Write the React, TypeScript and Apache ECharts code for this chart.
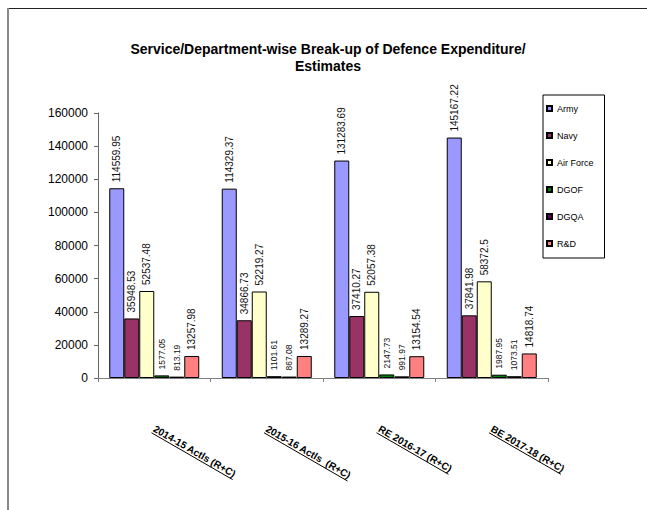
import React, { useEffect, useRef } from "react";
import * as echarts from "echarts";

const categories = [
  "2014-15 Actls (R+C)",
  "2015-16 Actls  (R+C)",
  "RE 2016-17 (R+C)",
  "BE 2017-18 (R+C)",
];
const seriesNames = ["Army", "Navy", "Air Force", "DGOF", "DGQA", "R&D"];
const army = [114559.95, 114329.37, 131283.69, 145167.22];
const navy = [35948.53, 34866.73, 37410.27, 37841.98];
const airForce = [52537.48, 52219.27, 52057.38, 58372.5];
const dgof = [1577.05, 1101.61, 2147.73, 1987.95];
const dgqa = [813.19, 867.08, 991.97, 1073.51];
const rnd = [13257.98, 13289.27, 13154.54, 14818.74];
const yTicks = { min: 0, max: 160000, interval: 20000 };

const seriesData = [army, navy, airForce, dgof, dgqa, rnd];
const colors = ["#9999FF", "#993366", "#FFFFCC", "#008000", "#660066", "#FF8080"];
const FONT = "'Liberation Sans', Arial, Helvetica, sans-serif";
const X_LABEL_SIZE = 10;
const X_LABEL_MARGIN = 50;
const X_LABEL_ROTATE = -30;

function measure(text: string): number {
  const c = document.createElement("canvas").getContext("2d");
  if (!c) return text.length * 5.5;
  c.font = `bold ${X_LABEL_SIZE}px ${FONT}`;
  return c.measureText(text).width;
}

export default function App() {
  const ref = useRef<HTMLDivElement>(null);
  useEffect(() => {
    if (!ref.current) return;
    const chart = echarts.init(ref.current, null, { renderer: "svg" });
    const widths = categories.map(measure);
    const ang = (-X_LABEL_ROTATE * Math.PI) / 180;
    const dx = Math.cos(ang);
    const dy = Math.sin(ang);
    const nx = -dy;
    const ny = dx;
    const off = 5.5;
    chart.setOption({
      animation: false,
      backgroundColor: "#ffffff",
      title: {
        text: "Service/Department-wise Break-up of Defence Expenditure/\nEstimates",
        left: 328,
        top: 40,
        padding: 0,
        textAlign: "center",
        textStyle: {
          fontFamily: FONT,
          fontSize: 14,
          fontWeight: "bold",
          color: "#000",
          lineHeight: 17,
        },
      },
      legend: {
        orient: "vertical",
        left: 543,
        top: 95,
        data: seriesNames,
        borderColor: "#000",
        borderWidth: 1,
        padding: [8, 11, 9, 3],
        itemWidth: 5,
        itemHeight: 5,
        itemGap: 16,
        itemTextGap: 1,
        icon: "rect",
        textStyle: {
          fontFamily: FONT,
          fontSize: 9,
          lineHeight: 11,
          color: "#000",
        },
      },
      grid: {
        left: 98,
        right: 99,
        top: 113,
        bottom: 132,
        containLabel: false,
      },
      xAxis: {
        type: "category",
        data: categories,
        axisLine: { show: true, lineStyle: { color: "#808080", width: 1 } },
        axisTick: { show: true, length: 4, inside: false, lineStyle: { color: "#808080" } },
        axisLabel: {
          rotate: X_LABEL_ROTATE,
          margin: X_LABEL_MARGIN,
          interval: 0,
          fontFamily: FONT,
          fontSize: X_LABEL_SIZE,
          fontWeight: "bold",
          color: "#000",
        },
        splitLine: { show: false },
      },
      yAxis: {
        type: "value",
        min: yTicks.min,
        max: yTicks.max,
        interval: yTicks.interval,
        axisLine: { show: true, lineStyle: { color: "#666", width: 1 } },
        axisTick: { show: true, length: 4, inside: false, lineStyle: { color: "#666" } },
        axisLabel: {
          margin: 10,
          fontFamily: FONT,
          fontSize: 12,
          color: "#000",
          formatter: (v: number) => String(v),
        },
        splitLine: { show: false },
      },
      graphic: [
        {
          type: "line",
          silent: true,
          shape: { x1: 8, y1: 8.5, x2: 647, y2: 8.5 },
          style: { stroke: "#222", lineWidth: 1 },
        },
        {
          type: "line",
          silent: true,
          shape: { x1: 8, y1: 8, x2: 8, y2: 510 },
          style: { stroke: "#888", lineWidth: 2 },
        },
      ],
      series: [
        ...seriesNames.map((name, i) => ({
          name,
          type: "bar",
          data: seriesData[i],
          barGap: "0%",
          barCategoryGap: "20%",
          itemStyle: { color: colors[i], borderColor: "#000", borderWidth: 1 },
          label: {
            show: true,
            position: "top",
            rotate: 90,
            align: "left",
            verticalAlign: "middle",
            distance: 6,
            fontFamily: FONT,
            fontSize: i === 3 || i === 4 ? 8.5 : 10,
            color: "#111",
            formatter: (p: any) => String(p.value),
          },
        })),
        {
          name: "underline",
          type: "custom",
          silent: true,
          clip: false,
          data: categories.map((_, i) => [i, 0]),
          renderItem: (params: any, api: any) => {
            const idx = api.value(0);
            const p = api.coord([idx, 0]);
            const ax = p[0];
            const ay = p[1] + X_LABEL_MARGIN;
            const sx = ax + nx * off;
            const sy = ay + ny * off;
            const w = widths[idx];
            return {
              type: "line",
              shape: { x1: sx, y1: sy, x2: sx + dx * w, y2: sy + dy * w },
              style: { stroke: "#000", lineWidth: 1 },
            };
          },
        },
      ],
    });
    return () => chart.dispose();
  }, []);
  return (
    <div
      ref={ref}
      style={{ position: "fixed", left: 0, top: 0, width: 647, height: 510 }}
    />
  );
}
